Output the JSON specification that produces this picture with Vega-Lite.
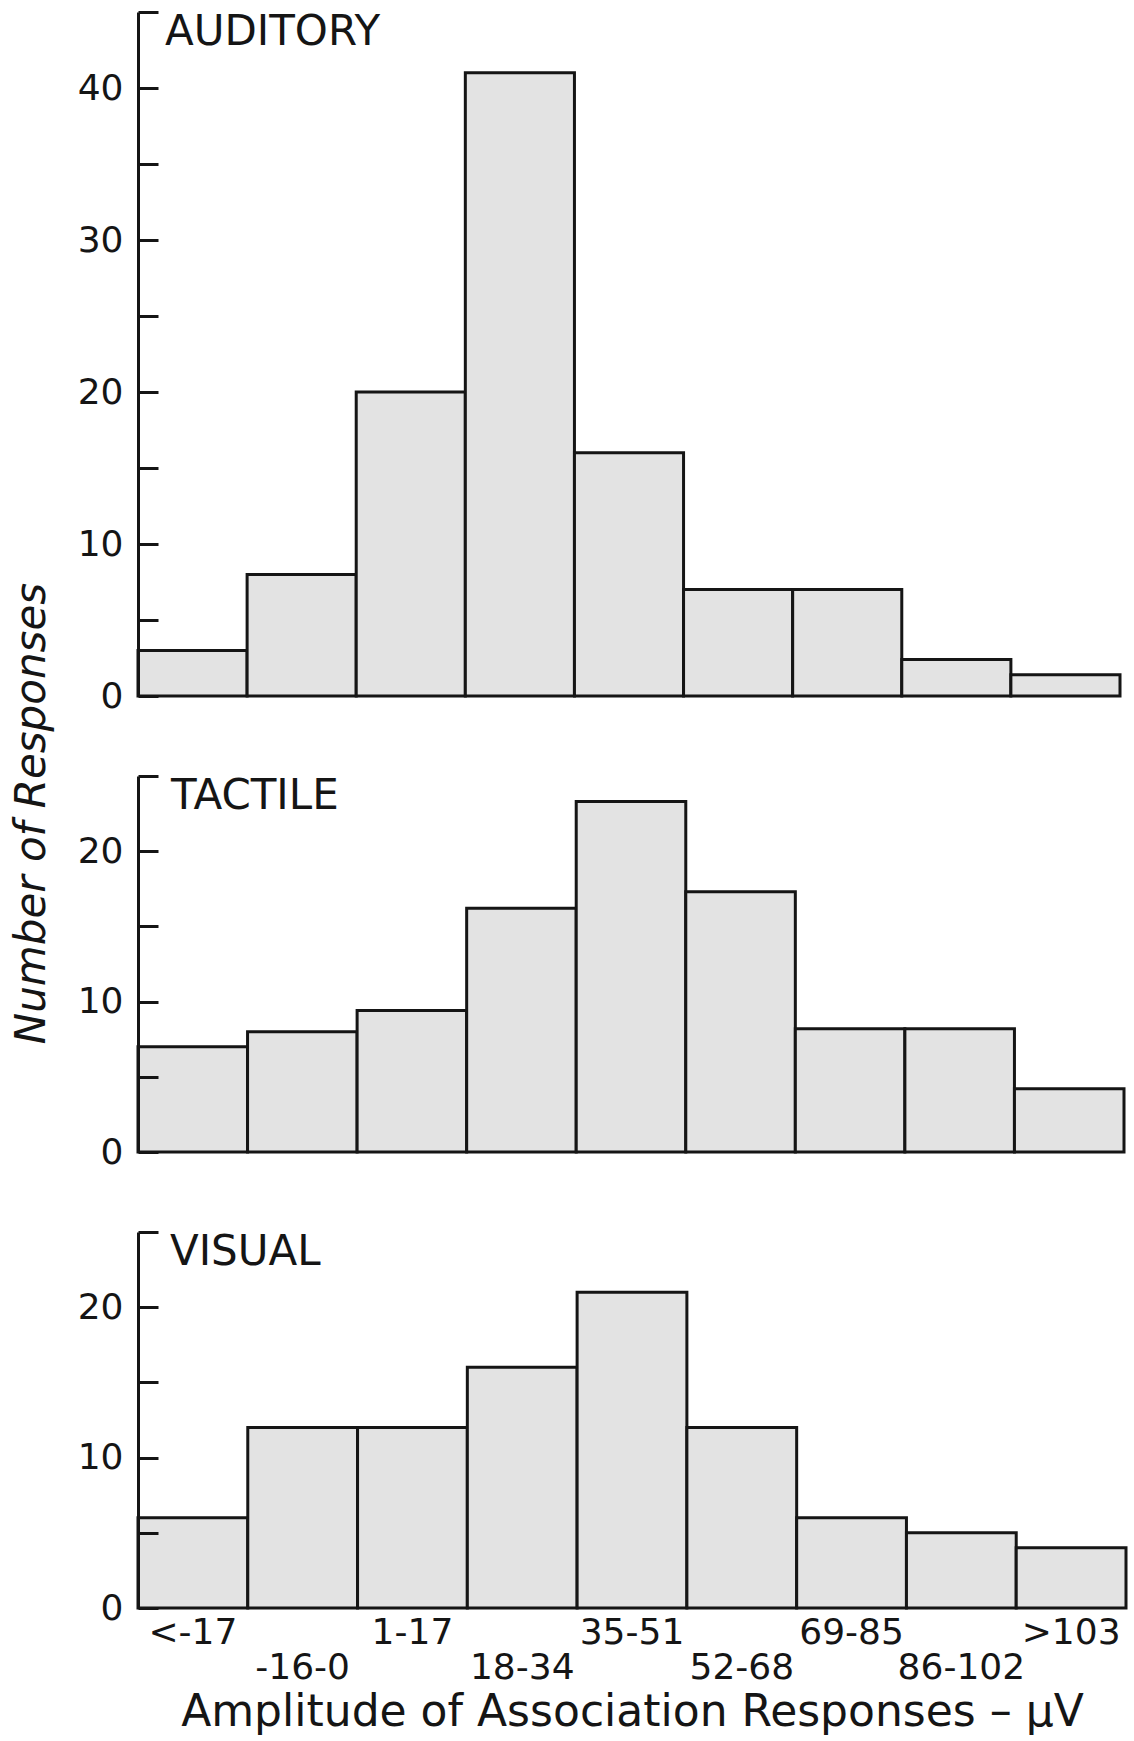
{
  "$schema": "https://vega.github.io/schema/vega-lite/v6.json",
  "background": "white",
  "padding": {"left": 9, "top": 10, "right": 10, "bottom": 4},
  "bounds": "flush",
  "spacing": 80,
  "datasets": {
    "counts": [
      {"modality": "Auditory", "range": "<-17", "count": 3},
      {"modality": "Auditory", "range": "-16-0", "count": 8},
      {"modality": "Auditory", "range": "1-17", "count": 20},
      {"modality": "Auditory", "range": "18-34", "count": 41},
      {"modality": "Auditory", "range": "35-51", "count": 16},
      {"modality": "Auditory", "range": "52-68", "count": 7},
      {"modality": "Auditory", "range": "69-85", "count": 7},
      {"modality": "Auditory", "range": "86-102", "count": 2.4},
      {"modality": "Auditory", "range": ">103", "count": 1.4},
      {"modality": "Tactile", "range": "<-17", "count": 7},
      {"modality": "Tactile", "range": "-16-0", "count": 8},
      {"modality": "Tactile", "range": "1-17", "count": 9.4},
      {"modality": "Tactile", "range": "18-34", "count": 16.2},
      {"modality": "Tactile", "range": "35-51", "count": 23.3},
      {"modality": "Tactile", "range": "52-68", "count": 17.3},
      {"modality": "Tactile", "range": "69-85", "count": 8.2},
      {"modality": "Tactile", "range": "86-102", "count": 8.2},
      {"modality": "Tactile", "range": ">103", "count": 4.2},
      {"modality": "Visual", "range": "<-17", "count": 6},
      {"modality": "Visual", "range": "-16-0", "count": 12},
      {"modality": "Visual", "range": "1-17", "count": 12},
      {"modality": "Visual", "range": "18-34", "count": 16},
      {"modality": "Visual", "range": "35-51", "count": 21},
      {"modality": "Visual", "range": "52-68", "count": 12},
      {"modality": "Visual", "range": "69-85", "count": 6},
      {"modality": "Visual", "range": "86-102", "count": 5},
      {"modality": "Visual", "range": ">103", "count": 4}
    ],
    "panels": [
      {"modality": "Auditory", "name": "AUDITORY"},
      {"modality": "Tactile", "name": "TACTILE"},
      {"modality": "Visual", "name": "VISUAL"}
    ]
  },
  "config": {
    "view": {"stroke": null},
    "font": "DejaVu Sans",
    "axis": {
      "grid": false,
      "domainColor": "#151515",
      "domainWidth": 3,
      "tickColor": "#151515",
      "tickWidth": 3,
      "labelColor": "#151515",
      "labelFont": "DejaVu Sans",
      "titleColor": "#151515",
      "titleFont": "DejaVu Sans"
    }
  },
  "vconcat": [
    {
      "width": 982,
      "height": 684,
      "layer": [
        {
          "data": {"name": "counts"},
          "transform": [{"filter": "datum.modality === 'Auditory'"}],
          "mark": {"type": "bar", "fill": "#e3e3e3", "stroke": "#151515", "strokeWidth": 3},
          "encoding": {
            "x": {
              "field": "range", "type": "nominal",
              "sort": ["<-17", "-16-0", "1-17", "18-34", "35-51", "52-68", "69-85", "86-102", ">103"],
              "scale": {"paddingInner": 0, "paddingOuter": 0},
              "axis": null
            },
            "y": {
              "field": "count", "type": "quantitative",
              "scale": {"domain": [0, 45], "nice": false},
              "axis": {
                "title": null,
                "values": [0, 5, 10, 15, 20, 25, 30, 35, 40, 45],
                "labelExpr": "datum.value % 10 === 0 && datum.value < 45 ? datum.label : ''",
                "tickSize": -20,
                "labelPadding": 35,
                "labelFontSize": 36,
                "zindex": 1
              }
            }
          }
        },
        {
          "data": {"name": "panels"},
          "transform": [{"filter": "datum.modality === 'Auditory'"}],
          "mark": {"type": "text", "align": "left", "baseline": "top", "dx": 27, "fontSize": 42, "color": "#151515"},
          "encoding": {
            "text": {"field": "name"},
            "x": {"datum": "<-17", "type": "nominal", "bandPosition": 0, "axis": null},
            "y": {"datum": 45, "type": "quantitative"}
          }
        }
      ]
    },
    {
      "width": 986,
      "height": 376,
      "layer": [
        {
          "data": {"name": "counts"},
          "transform": [{"filter": "datum.modality === 'Tactile'"}],
          "mark": {"type": "bar", "fill": "#e3e3e3", "stroke": "#151515", "strokeWidth": 3},
          "encoding": {
            "x": {
              "field": "range", "type": "nominal",
              "sort": ["<-17", "-16-0", "1-17", "18-34", "35-51", "52-68", "69-85", "86-102", ">103"],
              "scale": {"paddingInner": 0, "paddingOuter": 0},
              "axis": null
            },
            "y": {
              "field": "count", "type": "quantitative",
              "scale": {"domain": [0, 25], "nice": false},
              "axis": {
                "title": "Number of Responses",
                "titleFontSize": 42,
                "titleFontStyle": "italic",
                "titleFontWeight": "normal",
                "titleAngle": 270,
                "titleAlign": "center",
                "titleBaseline": "alphabetic",
                "titleX": -94,
                "titleY": 37,
                "values": [0, 5, 10, 15, 20, 25],
                "labelExpr": "datum.value % 10 === 0 && datum.value < 25 ? datum.label : ''",
                "tickSize": -20,
                "labelPadding": 35,
                "labelFontSize": 36,
                "zindex": 1
              }
            }
          }
        },
        {
          "data": {"name": "panels"},
          "transform": [{"filter": "datum.modality === 'Tactile'"}],
          "mark": {"type": "text", "align": "left", "baseline": "top", "dx": 33, "fontSize": 42, "color": "#151515"},
          "encoding": {
            "text": {"field": "name"},
            "x": {"datum": "<-17", "type": "nominal", "bandPosition": 0, "axis": null},
            "y": {"datum": 25, "type": "quantitative"}
          }
        }
      ]
    },
    {
      "width": 988,
      "height": 376,
      "layer": [
        {
          "data": {"name": "counts"},
          "transform": [{"filter": "datum.modality === 'Visual'"}],
          "mark": {"type": "bar", "fill": "#e3e3e3", "stroke": "#151515", "strokeWidth": 3},
          "encoding": {
            "x": {
              "field": "range", "type": "nominal",
              "sort": ["<-17", "-16-0", "1-17", "18-34", "35-51", "52-68", "69-85", "86-102", ">103"],
              "scale": {"paddingInner": 0, "paddingOuter": 0},
              "axis": {
                "title": "Amplitude of Association Responses – μV",
                "titleFontSize": 44,
                "titleFontWeight": "normal",
                "titlePadding": 5,
                "labelAngle": 0,
                "labelFontSize": 36,
                "labelBaseline": "top",
                "ticks": false,
                "domain": false,
                "labelPadding": {
                  "condition": {"test": "indexof(['<-17', '1-17', '35-51', '69-85', '>103'], datum.value) >= 0", "value": 7},
                  "value": 42
                }
              }
            },
            "y": {
              "field": "count", "type": "quantitative",
              "scale": {"domain": [0, 25], "nice": false},
              "axis": {
                "title": null,
                "values": [0, 5, 10, 15, 20, 25],
                "labelExpr": "datum.value % 10 === 0 && datum.value < 25 ? datum.label : ''",
                "tickSize": -20,
                "labelPadding": 35,
                "labelFontSize": 36,
                "zindex": 1
              }
            }
          }
        },
        {
          "data": {"name": "panels"},
          "transform": [{"filter": "datum.modality === 'Visual'"}],
          "mark": {"type": "text", "align": "left", "baseline": "top", "dx": 32, "fontSize": 42, "color": "#151515"},
          "encoding": {
            "text": {"field": "name"},
            "x": {"datum": "<-17", "type": "nominal", "bandPosition": 0},
            "y": {"datum": 25, "type": "quantitative"}
          }
        }
      ]
    }
  ]
}
